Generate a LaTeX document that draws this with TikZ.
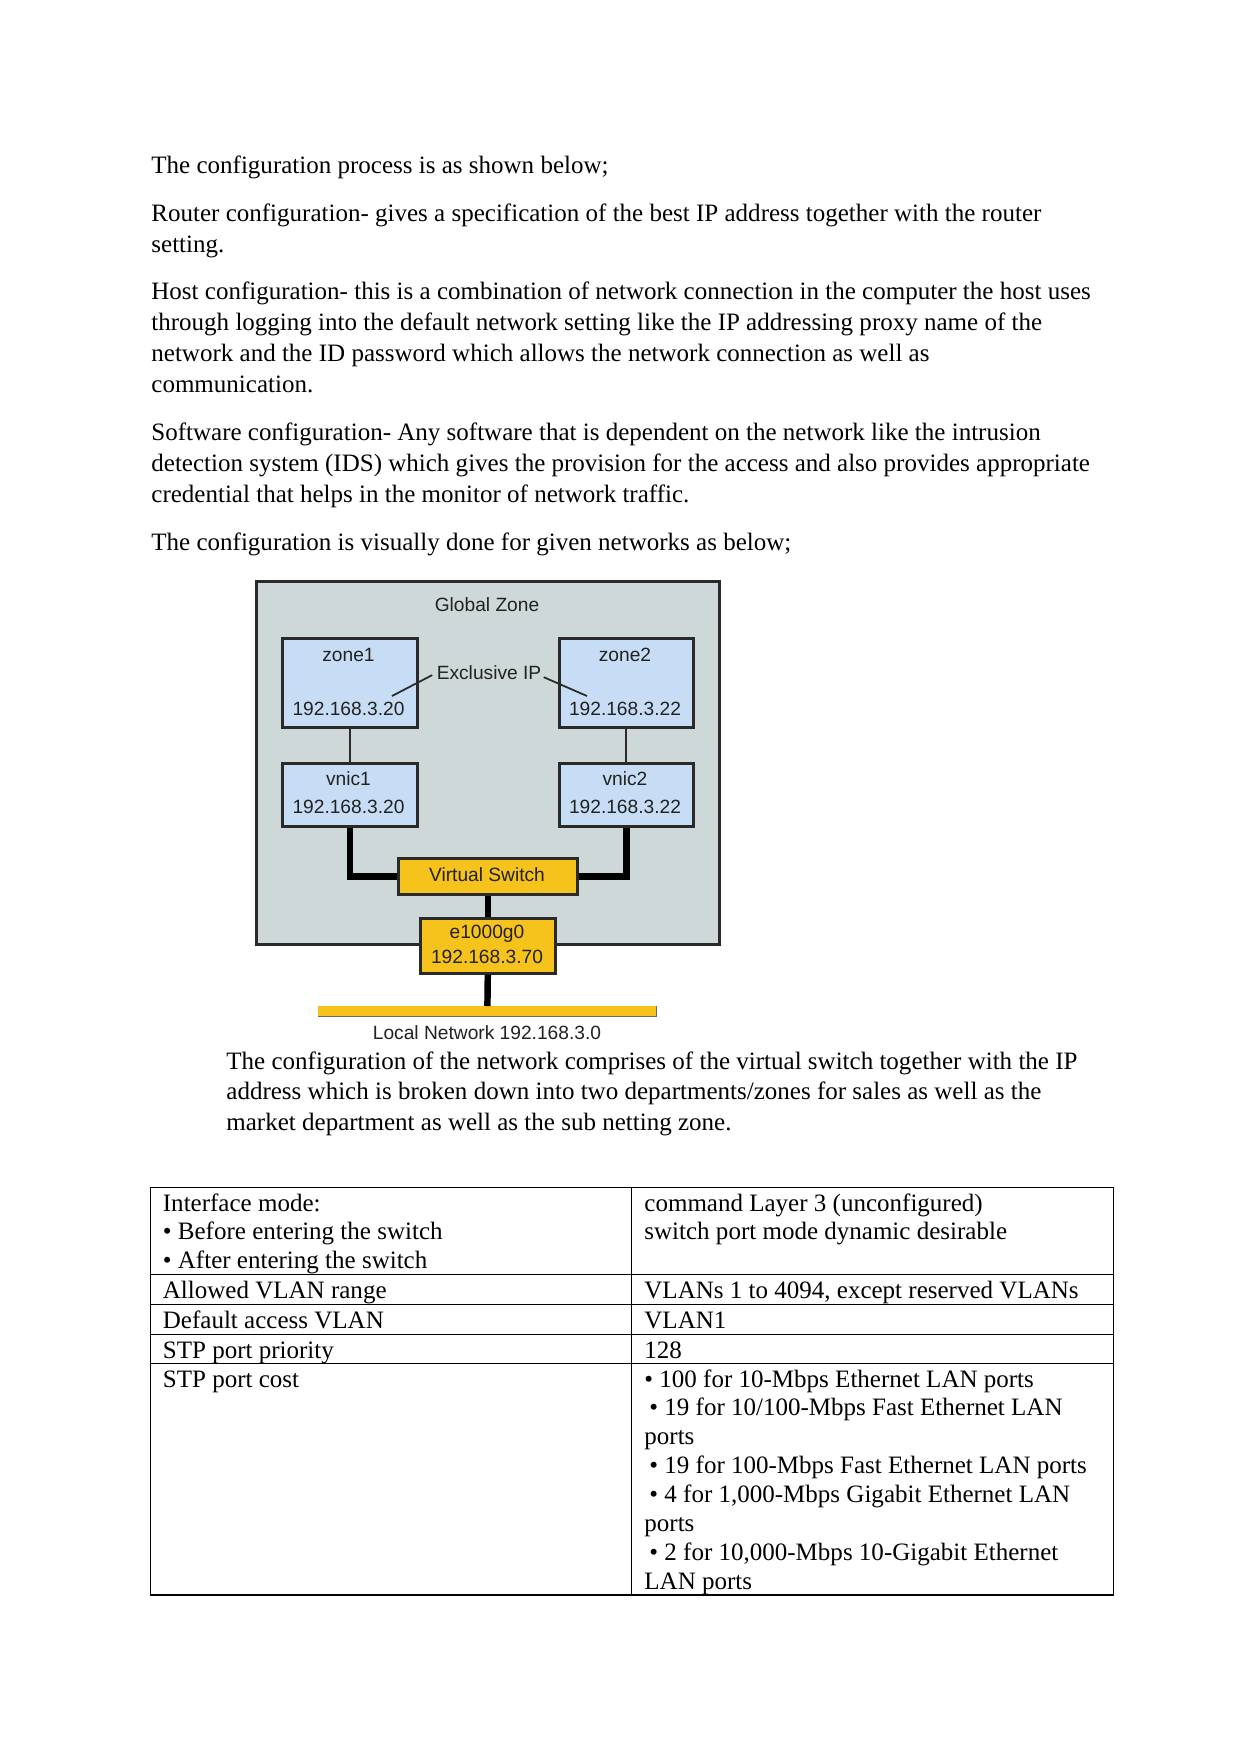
\documentclass[tikz,border=0pt]{standalone}
\usepackage{fontspec}
\setmainfont{Liberation Serif}
\newfontfamily\diagfont{Liberation Sans}
\definecolor{zonegray}{HTML}{CFD8D8}
\definecolor{boxblue}{HTML}{C6DDF5}
\definecolor{swyellow}{HTML}{F6C21C}
\definecolor{edgecol}{HTML}{2A2A2A}
\definecolor{dtext}{HTML}{222222}
\def\pxu{0.47968pt}
\begin{document}
\begin{tikzpicture}[x=0.47968pt,y=-0.47968pt,
  body/.style={anchor=base west,inner sep=0pt,font=\fontsize{12}{14}\selectfont},
  dlabel/.style={inner sep=0pt,font=\diagfont\fontsize{9.2}{11}\selectfont,text=dtext},
  outerzone/.style={draw=edgecol,line width=1.3pt,fill=zonegray,inner sep=0pt,anchor=north west},
  bluebox/.style={draw=edgecol,line width=1.25pt,fill=boxblue,inner sep=0pt,anchor=north west},
  yellowbox/.style={draw=edgecol,line width=1.25pt,fill=swyellow,inner sep=0pt,anchor=north west},
  thinlink/.style={draw=edgecol,line width=1.1pt},
  thicklink/.style={draw=black,line width=3.1pt},
  leader/.style={draw=edgecol,line width=0.85pt},
  tablerule/.style={draw=black,line width=0.55pt}]
\useasboundingbox[fill=white] (0,0) rectangle (1241,1754);

% ---------- body text ----------
\node[body] (t1)  at (151,173.5) {The configuration process is as shown below;};
\node[body] (t2)  at (151,221.5) {Router configuration- gives a specification of the best IP address together with the router};
\node[body] (t3)  at (151,252.8) {setting.};
\node[body] (t4)  at (151,299.5) {Host configuration- this is a combination of network connection in the computer the host uses};
\node[body] (t5)  at (151,330.5) {through logging into the default network setting like the IP addressing proxy name of the};
\node[body] (t6)  at (151,361.5) {network and the ID password which allows the network connection as well as};
\node[body] (t7)  at (151,392.2) {communication.};
\node[body] (t8)  at (151,440.5) {Software configuration- Any software that is dependent on the network like the intrusion};
\node[body] (t9)  at (151,471.5) {detection system (IDS) which gives the provision for the access and also provides appropriate};
\node[body] (t10) at (151,502.2) {credential that helps in the monitor of network traffic.};
\node[body] (t11) at (151,550.5) {The configuration is visually done for given networks as below;};

% ---------- diagram ----------
\node[outerzone,minimum width=463*\pxu,minimum height=363*\pxu] (global) at (255,580) {};
\node[dlabel] (globallbl) at (487,605) {Global Zone};

\node[bluebox,minimum width=135*\pxu,minimum height=89*\pxu] (zone1) at (281,637) {};
\node[dlabel] (zone1name) at (348.5,655) {zone1};
\node[dlabel] (zone1ip) at (348.5,709) {192.168.3.20};

\node[bluebox,minimum width=134*\pxu,minimum height=89*\pxu] (zone2) at (558,637) {};
\node[dlabel] (zone2name) at (625,655) {zone2};
\node[dlabel] (zone2ip) at (625,709) {192.168.3.22};

\node[dlabel] (excl) at (489,673) {Exclusive IP};
\coordinate (p1) at (392,696);
\coordinate (p2) at (587,696);
\draw[leader] ([xshift=-2pt,yshift=-1pt]excl.west) -- (p1);
\draw[leader] ([xshift=1pt,yshift=-2pt]excl.east) -- (p2);

\node[bluebox,minimum width=135*\pxu,minimum height=63*\pxu] (vnic1) at (281,762) {};
\node[dlabel] (vnic1name) at (348.5,779) {vnic1};
\node[dlabel] (vnic1ip) at (348.5,807) {192.168.3.20};

\node[bluebox,minimum width=134*\pxu,minimum height=63*\pxu] (vnic2) at (558,762) {};
\node[dlabel] (vnic2name) at (625,779) {vnic2};
\node[dlabel] (vnic2ip) at (625,807) {192.168.3.22};

\node[yellowbox,minimum width=179*\pxu,minimum height=36*\pxu] (vswitch) at (397,857) {};
\node[dlabel] (vswitchlbl) at (487,875) {Virtual Switch};

\node[yellowbox,minimum width=135*\pxu,minimum height=55*\pxu] (nic) at (419,917) {};
\node[dlabel] (nicname) at (487,934) {e1000g0};
\node[dlabel] (nicip) at (487,956.5) {192.168.3.70};

\node[fill=swyellow,inner sep=0pt,anchor=north west,minimum width=338*\pxu,minimum height=10*\pxu] (bar) at (318,1006) {};
\draw[draw=edgecol!70,line width=0.6pt] (bar.south west) -- (bar.south east) -- ([yshift=2.5pt]bar.east);
\node[dlabel] (netlbl) at (487,1033) {Local Network 192.168.3.0};

% connectors
\draw[thinlink] (zone1.south) -- (vnic1.north);
\draw[thinlink] (zone2.south) -- (vnic2.north);
\draw[thicklink] (vnic1.south) |- (vswitch.west);
\draw[thicklink] (vnic2.south) |- (vswitch.east);
\draw[thicklink] (vswitch.south) -- (nic.north);
\draw[thicklink] (nic.south) -- (bar.north);

% ---------- caption ----------
\node[body] (c1) at (226,1069.8) {The configuration of the network comprises of the virtual switch together with the IP};
\node[body] (c2) at (226,1099.8) {address which is broken down into two departments/zones for sales as well as the};
\node[body] (c3) at (226,1130.5) {market department as well as the sub netting zone.};

% ---------- table ----------
\draw[tablerule] (150.7,1187.3) rectangle (1113.3,1595);
\draw[tablerule] (631.5,1187.3) -- (631.5,1595);
\draw[tablerule] (150.7,1274.6) -- (1113.3,1274.6);
\draw[tablerule] (150.7,1304.5) -- (1113.3,1304.5);
\draw[tablerule] (150.7,1334.5) -- (1113.3,1334.5);
\draw[tablerule] (150.7,1363.5) -- (1113.3,1363.5);

\node[body] (l1) at (162.5,1211.5) {Interface mode:};
\node[body] (l2) at (162.5,1239.5) {• Before entering the switch};
\node[body] (l3) at (162.5,1268)   {• After entering the switch};
\node[body] (l4) at (162.5,1298.5) {Allowed VLAN range};
\node[body] (l5) at (162.5,1328.5) {Default access VLAN};
\node[body] (l6) at (162.5,1358)   {STP port priority};
\node[body] (l7) at (162.5,1387)   {STP port cost};

\node[body] (r1) at (644,1211.5) {command Layer 3 (unconfigured)};
\node[body] (r2) at (644,1239.5) {switch port mode dynamic desirable};
\node[body] (r3) at (644,1298.5) {VLANs 1 to 4094, except reserved VLANs};
\node[body] (r4) at (644,1328.5) {VLAN1};
\node[body] (r5) at (644,1358)   {128};
\node[body] (r6) at (644,1387)     {• 100 for 10-Mbps Ethernet LAN ports};
\node[body] (r7) at (649,1415.9)   {• 19 for 10/100-Mbps Fast Ethernet LAN};
\node[body] (r8) at (644,1444.8)   {ports};
\node[body] (r9) at (649,1473.7)   {• 19 for 100-Mbps Fast Ethernet LAN ports};
\node[body] (r10) at (649,1502.6)  {• 4 for 1,000-Mbps Gigabit Ethernet LAN};
\node[body] (r11) at (644,1531.5)  {ports};
\node[body] (r12) at (649,1560.4)  {• 2 for 10,000-Mbps 10-Gigabit Ethernet};
\node[body] (r13) at (644,1589.3)  {LAN ports};
\end{tikzpicture}
\end{document}
